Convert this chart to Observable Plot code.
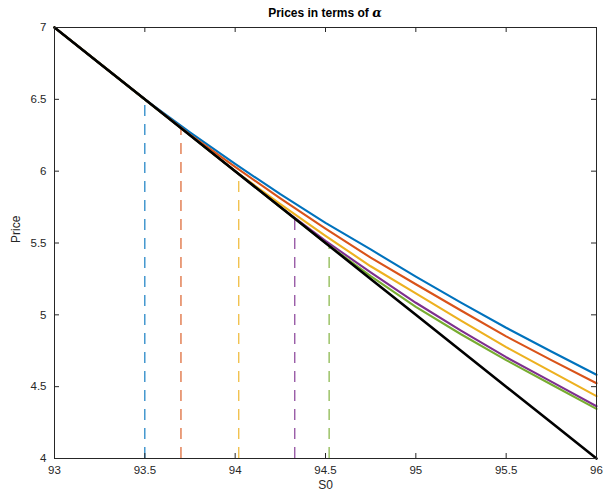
<!DOCTYPE html>
<html><head><meta charset="utf-8">
<script src="https://cdn.jsdelivr.net/npm/d3@7"></script>
<script src="https://cdn.jsdelivr.net/npm/@observablehq/plot@0.6"></script>
<style>
body{margin:0;background:#fff;font-family:"Liberation Sans",Arial,sans-serif;}
#title{margin-left:54px;width:542px;height:15px;padding-top:5px;line-height:15px;text-align:center;font-weight:bold;font-size:12px;color:#000;white-space:nowrap;}
#title i{font-family:"DejaVu Serif",serif;font-size:12.5px;}
</style></head><body>
<div id="title">Prices in terms of <i>α</i></div>
<div id="chart"></div>
<script>
// Spot grid
const S0 = [93, 93.25, 93.5, 93.75, 94, 94.25, 94.5, 94.75, 95, 95.25, 95.5, 95.75, 96];
const strike = 100;
// Prices for each alpha
const priceA1 = [7, 6.75, 6.5, 6.27, 6.05, 5.84, 5.64, 5.455, 5.266, 5.085, 4.91, 4.745, 4.583];
const priceA2 = [7, 6.75, 6.5, 6.255, 6.03, 5.81, 5.6, 5.398, 5.213, 5.03, 4.85, 4.685, 4.524];
const priceA3 = [7, 6.75, 6.5, 6.25, 6.0, 5.77, 5.55, 5.338, 5.15, 4.96, 4.775, 4.605, 4.434];
const priceA4 = [7, 6.75, 6.5, 6.25, 6.0, 5.75, 5.515, 5.295, 5.084, 4.89, 4.705, 4.535, 4.364];
const priceA5 = [7, 6.75, 6.5, 6.25, 6.0, 5.75, 5.5, 5.27, 5.056, 4.865, 4.685, 4.515, 4.345];
const payoff = S0.map(s => strike - s);
// Early exercise boundaries
const boundaries = [93.5, 93.7, 94.02, 94.33, 94.52];
const colors = ["#0072BD", "#D95319", "#EDB120", "#7E2F8E", "#77AC30"];
const xTicks = [93, 93.5, 94, 94.5, 95, 95.5, 96];
const yTicks = [4, 4.5, 5, 5.5, 6, 6.5, 7];

const seriesPrices = [priceA1, priceA2, priceA3, priceA4, priceA5];
const curves = seriesPrices.flatMap((arr, i) => arr.map((p, j) => ({s: S0[j], p, k: i})));
const bounds = boundaries.map((b, i) => ({b, top: strike - b, k: i}));
const black = S0.map((s, j) => ({s, p: payoff[j]}));

const W = 603, H = 477, mt = 7, mb = 39, ml = 54, mr = 7;
const ph = H - mt - mb, pw = W - ml - mr;
const axisColor = "#262626";

const chart = Plot.plot({
  width: W, height: H, marginTop: mt, marginBottom: mb, marginLeft: ml, marginRight: mr,
  style: {fontFamily: "'Liberation Sans', Arial, sans-serif", fontSize: "11.5px", color: axisColor, background: "#fff", overflow: "visible"},
  x: {domain: [93, 96]},
  y: {domain: [4, 7]},
  color: {type: "identity"},
  marks: [
    ...bounds.map(d => Plot.ruleX([d], {x: "b", y1: 4, y2: "top", stroke: colors[d.k], strokeOpacity: 1, strokeWidth: 1.1, strokeDasharray: "11,8"})),
    ...seriesPrices.map((arr, i) => Plot.line(curves.filter(d => d.k === i), {x: "s", y: "p", stroke: colors[i], strokeWidth: 2.1})),
    Plot.line(black, {x: "s", y: "p", stroke: "#000", strokeWidth: 2.6}),
    Plot.frame({stroke: axisColor, strokeWidth: 1}),
    Plot.tickX(xTicks, {x: d => d, insetTop: ph - 5, stroke: axisColor}),
    Plot.tickX(xTicks, {x: d => d, insetBottom: ph - 5, stroke: axisColor}),
    Plot.tickY(yTicks, {y: d => d, insetRight: pw - 5, stroke: axisColor}),
    Plot.tickY(yTicks, {y: d => d, insetLeft: pw - 5, stroke: axisColor}),
    Plot.axisX({ticks: xTicks, tickSize: 0, tickPadding: 7, label: null, tickFormat: d => String(d), fontSize: 11.5}),
    Plot.axisY({ticks: yTicks, tickSize: 0, tickPadding: 8, label: null, tickFormat: d => String(d), fontSize: 11.5}),
    Plot.text(["S0"], {frameAnchor: "bottom", dy: 30, fontSize: 12, fill: axisColor}),
    Plot.text(["Price"], {frameAnchor: "left", dx: -38, rotate: -90, fontSize: 12, fill: axisColor})
  ]
});
document.getElementById("chart").appendChild(chart);
</script>
</body></html>
